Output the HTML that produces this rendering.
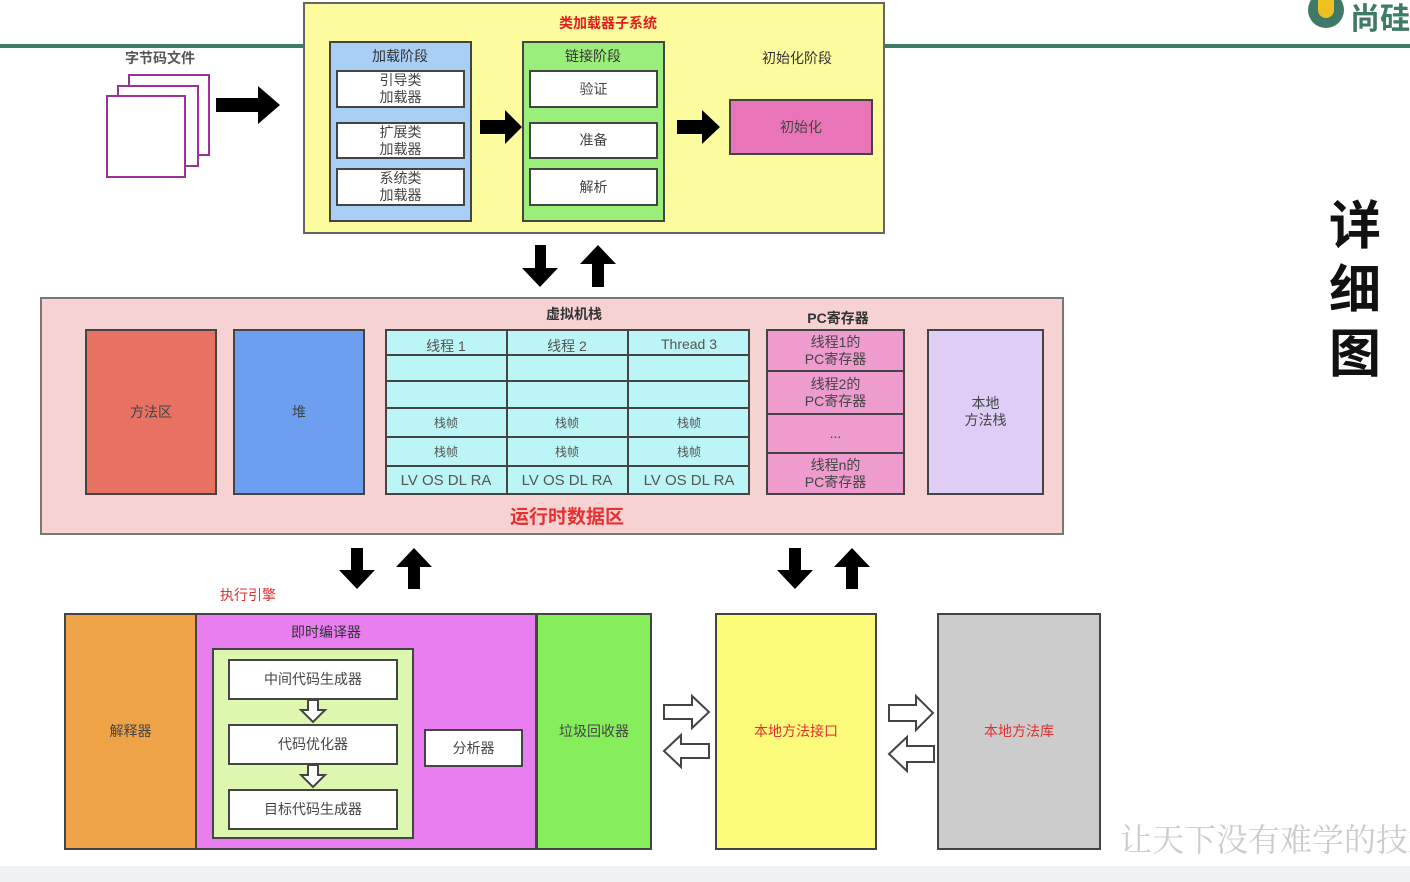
<!DOCTYPE html>
<html><head><meta charset="utf-8"><style>
body{margin:0;width:1410px;height:882px;background:#fff;position:relative;overflow:hidden;font-family:"Liberation Sans","Noto Sans CJK SC",sans-serif;}
.b{position:absolute;box-sizing:border-box;border:2px solid #444;display:flex;align-items:center;justify-content:center;text-align:center;font-size:14px;color:#444;line-height:17px;}
.t{position:absolute;font-size:14px;color:#333;white-space:nowrap;transform:translateX(-50%);}
.w{background:#fff;}
svg{position:absolute;left:0;top:0;}
</style></head><body>
<div style="position:absolute;left:0;top:44px;width:1410px;height:4px;background:#3f7a68"></div>
<div style="position:absolute;left:0;top:866px;width:1410px;height:16px;background:#eef2f5"></div>
<div style="position:absolute;left:1308px;top:-8px;width:36px;height:36px;border-radius:50%;background:#3f7a68"></div>
<div style="position:absolute;left:1318px;top:0px;width:16px;height:18px;border-radius:0 0 8px 8px;background:#f0c020"></div>
<div class="t" style="left:1380px;top:-6px;font-size:30px;color:#3f7a68;font-weight:bold">尚硅</div>

<div class="t" style="left:160px;top:48px;font-weight:bold;color:#555">字节码文件</div>
<div class="b w" style="left:128px;top:74px;width:82px;height:82px;border-color:#993399"></div>
<div class="b w" style="left:117px;top:85px;width:82px;height:82px;border-color:#993399"></div>
<div class="b w" style="left:106px;top:95px;width:80px;height:83px;border-color:#993399"></div>

<div class="b" style="left:303px;top:2px;width:582px;height:232px;background:#fcfb9e;border-color:#666"></div>
<div class="t" style="left:608px;top:13px;color:#e02020;font-weight:bold">类加载器子系统</div>
<div class="b" style="left:329px;top:41px;width:143px;height:181px;background:#a9cff5"></div>
<div class="t" style="left:400px;top:46px">加载阶段</div>
<div class="b w" style="left:336px;top:70px;width:129px;height:38px">引导类<br>加载器</div>
<div class="b w" style="left:336px;top:122px;width:129px;height:37px">扩展类<br>加载器</div>
<div class="b w" style="left:336px;top:168px;width:129px;height:38px">系统类<br>加载器</div>
<div class="b" style="left:522px;top:41px;width:143px;height:181px;background:#9aee7a"></div>
<div class="t" style="left:593px;top:46px">链接阶段</div>
<div class="b w" style="left:529px;top:70px;width:129px;height:38px">验证</div>
<div class="b w" style="left:529px;top:122px;width:129px;height:37px">准备</div>
<div class="b w" style="left:529px;top:168px;width:129px;height:38px">解析</div>
<div class="t" style="left:797px;top:48px">初始化阶段</div>
<div class="b" style="left:729px;top:99px;width:144px;height:56px;background:#ea74b8">初始化</div>

<div class="b" style="left:40px;top:297px;width:1024px;height:238px;background:#f6d2d2;border-color:#777"></div>
<div class="b" style="left:85px;top:329px;width:132px;height:166px;background:#e87262">方法区</div>
<div class="b" style="left:233px;top:329px;width:132px;height:166px;background:#6d9ef0">堆</div>
<div class="t" style="left:574px;top:304px;font-weight:bold">虚拟机栈</div>
<div class="t" style="left:838px;top:308px;font-weight:bold">PC寄存器</div>
<div class="b" style="left:385px;top:329px;width:365px;height:166px;background:#bbf5f5"></div>
<div style="position:absolute;left:385px;top:329px;width:365px;height:166px;">
<svg width="365" height="166"><g stroke="#444" stroke-width="2">
<line x1="122" y1="0" x2="122" y2="166"/><line x1="243" y1="0" x2="243" y2="166"/>
<line x1="0" y1="26" x2="365" y2="26"/><line x1="0" y1="52" x2="365" y2="52"/><line x1="0" y1="79" x2="365" y2="79"/><line x1="0" y1="108" x2="365" y2="108"/><line x1="0" y1="137" x2="365" y2="137"/></g></svg></div>
<div class="t" style="left:446px;top:336px;color:#555">线程 1</div>
<div class="t" style="left:567px;top:336px;color:#555">线程 2</div>
<div class="t" style="left:689px;top:336px;color:#555">Thread 3</div>
<div class="t" style="left:446px;top:414px;font-size:12px;color:#555">栈帧</div><div class="t" style="left:567px;top:414px;font-size:12px;color:#555">栈帧</div><div class="t" style="left:689px;top:414px;font-size:12px;color:#555">栈帧</div>
<div class="t" style="left:446px;top:443px;font-size:12px;color:#555">栈帧</div><div class="t" style="left:567px;top:443px;font-size:12px;color:#555">栈帧</div><div class="t" style="left:689px;top:443px;font-size:12px;color:#555">栈帧</div>
<div class="t" style="left:446px;top:472px;font-size:15px;color:#555">LV OS DL RA</div><div class="t" style="left:567px;top:472px;font-size:15px;color:#555">LV OS DL RA</div><div class="t" style="left:689px;top:472px;font-size:15px;color:#555">LV OS DL RA</div>
<div class="b" style="left:766px;top:329px;width:139px;height:43px;background:#ee9bcd">线程1的<br>PC寄存器</div>
<div class="b" style="left:766px;top:370px;width:139px;height:45px;background:#ee9bcd">线程2的<br>PC寄存器</div>
<div class="b" style="left:766px;top:413px;width:139px;height:41px;background:#ee9bcd">...</div>
<div class="b" style="left:766px;top:452px;width:139px;height:43px;background:#ee9bcd">线程n的<br>PC寄存器</div>
<div class="b" style="left:927px;top:329px;width:117px;height:166px;background:#ddcdf7">本地<br>方法栈</div>
<div class="t" style="left:567px;top:502px;font-size:19px;color:#e83030;font-weight:bold">运行时数据区</div>

<div class="t" style="left:248px;top:585px;color:#e03030">执行引擎</div>
<div class="b" style="left:64px;top:613px;width:133px;height:237px;background:#eea347">解释器</div>
<div class="b" style="left:195px;top:613px;width:342px;height:237px;background:#e87ef0"></div>
<div class="t" style="left:326px;top:622px">即时编译器</div>
<div class="b" style="left:212px;top:648px;width:202px;height:191px;background:#ddf7b0"></div>
<div class="b w" style="left:228px;top:659px;width:170px;height:41px">中间代码生成器</div>
<div class="b w" style="left:228px;top:724px;width:170px;height:41px">代码优化器</div>
<div class="b w" style="left:228px;top:789px;width:170px;height:41px">目标代码生成器</div>
<div class="b w" style="left:424px;top:729px;width:99px;height:38px">分析器</div>
<div class="b" style="left:536px;top:613px;width:116px;height:237px;background:#86ee5a">垃圾回收器</div>
<div class="b" style="left:715px;top:613px;width:162px;height:237px;background:#fdfb7a;color:#e03030">本地方法接口</div>
<div class="b" style="left:937px;top:613px;width:164px;height:237px;background:#cccccc;color:#e03030">本地方法库</div>

<svg width="1410" height="882">
<g fill="#000">
<polygon points="216,98 258,98 258,86 280,105 258,124 258,112 216,112"/>
<polygon points="480,120 505,120 505,110 522,127 505,144 505,134 480,134"/>
<polygon points="677,120 702,120 702,110 720,127 702,144 702,134 677,134"/>
<polygon points="535,245 546,245 546,268 558,268 540,287 522,268 535,268"/>
<polygon points="592,287 604,287 604,264 616,264 598,245 580,264 592,264"/>
<polygon points="351,548 363,548 363,570 375,570 357,589 339,570 351,570"/>
<polygon points="408,589 420,589 420,567 432,567 414,548 396,567 408,567"/>
<polygon points="789,548 801,548 801,570 813,570 795,589 777,570 789,570"/>
<polygon points="846,589 858,589 858,567 870,567 852,548 834,567 846,567"/>
</g>
<g fill="#fff" stroke="#444" stroke-width="2">
<polygon points="308,700 318,700 318,710 325,710 313,722 301,710 308,710"/>
<polygon points="308,765 318,765 318,775 325,775 313,787 301,775 308,775"/>
<polygon points="664,705 692,705 692,696 709,712 692,728 692,719 664,719"/>
<polygon points="709,744 681,744 681,735 664,751 681,767 681,758 709,758"/>
<polygon points="889,705 916,705 916,696 933,713 916,730 916,721 889,721"/>
<polygon points="934,746 907,746 907,737 889,754 907,771 907,762 934,762"/>
</g>
</svg>

<div class="t" style="left:1355px;top:195px;font-size:52px;font-weight:bold;color:#111;line-height:64px;white-space:normal;width:60px;text-align:center">详<br>细<br>图</div>
<div style="position:absolute;left:1120px;top:815px;font-size:32px;color:#ccc;white-space:nowrap;font-family:'Noto Serif CJK SC',serif">让天下没有难学的技术</div>
</body></html>
